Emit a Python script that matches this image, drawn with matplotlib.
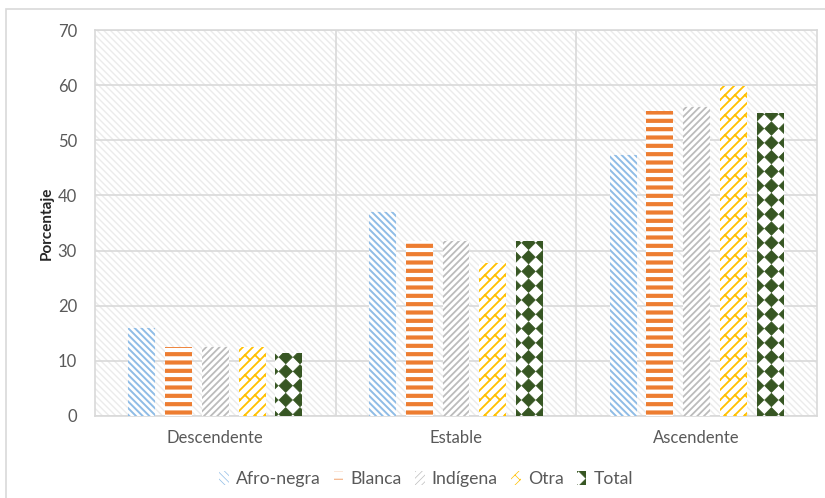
import numpy as np
import matplotlib
matplotlib.use("Agg")
import matplotlib.pyplot as plt
import matplotlib.hatch as mhatch
from matplotlib.path import Path
from matplotlib.patches import Rectangle

# ---- data ----
categories = ["Descendente", "Estable", "Ascendente"]
series = ["Afro-negra", "Blanca", "Indígena", "Otra", "Total"]
afro_negra = [16.0, 37.0, 47.3]
blanca = [12.5, 31.7, 55.3]
indigena = [12.5, 31.7, 56.0]
otra = [12.5, 27.7, 59.8]
total = [11.5, 31.7, 55.0]
values = [afro_negra, blanca, indigena, otra, total]
y_ticks = [0, 10, 20, 30, 40, 50, 60, 70]


# ---- custom hatch patterns ----
class DiamondGrid(mhatch.HatchPatternBase):
    """Filled diamonds on a square grid, bound to the '*' hatch character."""
    filled = True

    def __init__(self, hatch, density):
        self.num_rows = 7 if hatch.count('*') else 0
        self.num_vertices = (self.num_rows + 1) ** 2 * 5 if self.num_rows else 0

    def set_vertices_and_codes(self, vertices, codes):
        n = self.num_rows
        step = 1.0 / n
        r = step * 0.47
        shape = np.array([[0, r], [r, 0], [0, -r], [-r, 0], [0, r]])
        shape_codes = [Path.MOVETO, Path.LINETO, Path.LINETO, Path.LINETO,
                       Path.CLOSEPOLY]
        k = 0
        for i in range(n + 1):
            for j in range(n + 1):
                vertices[k:k + 5] = shape + [i * step, j * step]
                codes[k:k + 5] = shape_codes
                k += 5


class Weave(mhatch.HatchPatternBase):
    """Diagonal brick / weave pattern, bound to the 'o' hatch character."""

    def __init__(self, hatch, density):
        self.segments = []
        if hatch.count('o'):
            n = 10
            s = 1.0 / n
            for k in range(-2 * n, 2 * n + 1):
                c = k * s
                # long '/' line y = x + c
                self.segments.append(((-1.0, -1.0 + c), (2.0, 2.0 + c)))
                # short '\' connectors to the next line
                off = (k % 2) * s
                for j in range(-n, 2 * n):
                    x0 = j * 2 * s + off
                    self.segments.append(((x0, x0 + c),
                                          (x0 - s / 2, x0 + c + s / 2)))
        self.num_vertices = 2 * len(self.segments)

    def set_vertices_and_codes(self, vertices, codes):
        for i, (p0, p1) in enumerate(self.segments):
            vertices[2 * i] = p0
            vertices[2 * i + 1] = p1
            codes[2 * i] = Path.MOVETO
            codes[2 * i + 1] = Path.LINETO


mhatch._hatch_types = [t for t in mhatch._hatch_types
                       if t not in (mhatch.Stars, mhatch.SmallCircles)]
mhatch._hatch_types += [DiamondGrid, Weave]

# ---- styling ----
styles = [
    dict(color="#8FBCE6", hatch="\\" * 5, hlw=1.4),
    dict(color="#ED7D31", hatch="--", hlw=3.0),
    dict(color="#BCBCBC", hatch="/" * 5, hlw=1.3),
    dict(color="#FFC000", hatch="o", hlw=1.3),
    dict(color="#375623", hatch="*", hlw=0.5),
]
text_color = "#595959"
grid_color = "#D9D9D9"

plt.rcParams['font.family'] = ['Lato', 'DejaVu Sans']

fig = plt.figure(figsize=(8.25, 4.98), dpi=100)
fig.patches.append(Rectangle((6 / 825, -0.01), 1.05, 1 - 9 / 498 + 0.01,
                             transform=fig.transFigure, fill=False,
                             edgecolor=grid_color, linewidth=1.2))

ax = fig.add_axes([95 / 825, 1 - 416 / 498, 722 / 825, 386 / 498])

# hatched plot background
ax.patch.set_facecolor("white")
ax.patch.set_hatch("\\" * 5)
ax.patch.set_edgecolor("#EBEBEB")
ax.patch.set_linewidth(0)
if hasattr(ax.patch, "set_hatch_linewidth"):
    ax.patch.set_hatch_linewidth(1.0)

x = np.arange(len(categories))
step = 0.1525
width = 0.112
handles = []
for i, (name, vals, st) in enumerate(zip(series, values, styles)):
    plt.rcParams['hatch.linewidth'] = st["hlw"]
    bars = ax.bar(x + (i - 2) * step, vals, width, facecolor="white",
                  edgecolor=st["color"], linewidth=0, hatch=st["hatch"],
                  label=name, zorder=3)
    for b in bars:
        if hasattr(b, "set_hatch_linewidth"):
            b.set_hatch_linewidth(st["hlw"])
    handles.append(bars)

ax.set_xlim(-0.5, 2.5)
ax.set_ylim(0, 70)
ax.set_yticks(y_ticks)
ax.set_xticks(x)
ax.set_xticklabels(categories)
ax.set_xticks([0.5, 1.5], minor=True)
ax.tick_params(axis="both", which="both", length=0, colors=text_color,
               labelsize=12)
ax.tick_params(axis="y", pad=13)
ax.tick_params(axis="x", pad=10)
ax.grid(axis="y", color=grid_color, linewidth=1.2, zorder=1)
ax.grid(axis="x", which="minor", color=grid_color, linewidth=1.2, zorder=1)
ax.set_axisbelow(True)
for sp in ax.spines.values():
    sp.set_color(grid_color)
    sp.set_linewidth(1.2)

ax.set_ylabel("Porcentaje", fontsize=11, fontweight="bold", color="#262626",
              labelpad=3)

leg = fig.legend(handles=handles, labels=series, loc="center",
                 bbox_to_anchor=(426 / 825, 1 - 479 / 498), ncol=5,
                 frameon=False, fontsize=12.7, handlelength=0.55,
                 handleheight=0.9, handletextpad=0.4, columnspacing=0.75,
                 labelcolor=text_color)

fig.savefig("out.png", dpi=100)
